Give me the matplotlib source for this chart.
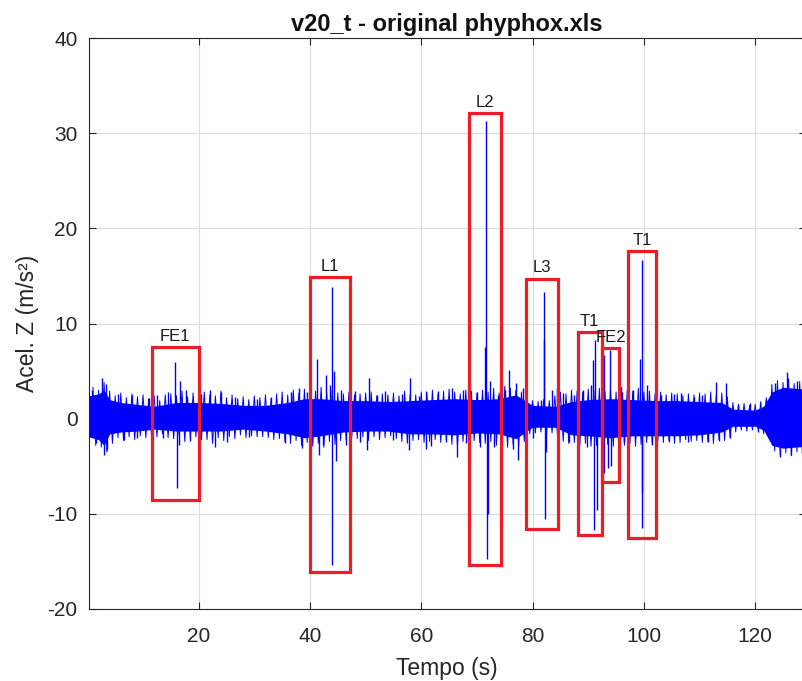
import matplotlib
matplotlib.use("Agg")
import matplotlib.pyplot as plt
import numpy as np
from matplotlib.patches import Rectangle

plt.rcParams["font.family"] = ["Liberation Sans", "DejaVu Sans"]
plt.rcParams["axes.unicode_minus"] = False

# dense core of the signal (upper / lower envelope)
env_t = [0.2, 2.0, 3.0, 4.0, 6, 9, 12, 16, 20, 24, 28, 32, 36, 39, 42, 46, 50, 54,
         58, 62, 66, 70, 74, 77, 80, 84, 87, 90, 94, 98, 102, 106, 110, 114, 116,
         120, 121.5, 123, 125, 127, 129.3]
env_hi = [2.4, 2.6, 3.0, 2.0, 1.7, 1.5, 1.3, 1.7, 1.7, 1.6, 1.4, 1.4, 1.7, 2.1, 2.1,
          1.9, 1.9, 1.8, 1.9, 2.0, 2.1, 2.0, 2.1, 2.5, 1.4, 1.3, 1.8, 2.0, 2.1, 2.0,
          1.9, 1.9, 1.8, 1.7, 1.0, 0.9, 1.3, 2.8, 3.3, 3.2, 3.1]
env_lo = [-1.9, -2.2, -2.8, -1.6, -1.4, -1.3, -1.1, -1.3, -1.3, -1.3, -1.1, -1.3,
          -1.6, -2.0, -1.8, -1.4, -1.3, -1.3, -1.6, -1.6, -1.7, -1.5, -1.6, -2.1,
          -0.9, -0.9, -1.7, -1.8, -2.0, -1.8, -1.8, -1.8, -1.7, -1.4, -0.8, -0.8,
          -1.2, -2.8, -3.1, -3.0, -2.9]

# oscillation maxima / minima, one pair per second (t = 1 .. 129 s)
osc_hi = [3.3, 3.0, 3.8, 2.9, 2.4, 2.7, 2.2, 2.6, 2.3, 2.5,
          2.1, 2.4, 1.9, 2.5, 2.6, 2.4, 2.9, 2.3, 2.7, 2.2,
          2.8, 2.5, 2.4, 2.9, 2.2, 2.5, 2.1, 2.3, 2.0, 2.4,
          2.2, 2.5, 2.1, 2.6, 2.8, 2.5, 3.0, 2.7, 3.1, 2.9,
          2.9, 3.3, 2.8, 3.0, 2.7, 2.6, 2.8, 2.5, 2.6, 2.7,
          2.8, 2.4, 2.6, 2.5, 2.7, 2.4, 2.9, 2.6, 2.5, 2.8,
          2.7, 3.0, 2.6, 2.9, 3.1, 2.8, 2.6, 3.0, 2.9, 2.7,
          3.0, 2.8, 3.2, 2.7, 3.4, 3.2, 3.0, 2.8, 2.0, 1.9,
          1.8, 2.0, 1.9, 2.4, 2.8, 2.6, 3.0, 2.9, 2.8, 3.1,
          3.0, 3.2, 2.9, 3.1, 2.8, 3.3, 3.0, 2.9, 3.2, 2.8,
          2.9, 2.6, 2.8, 2.5, 2.7, 2.6, 2.4, 2.6, 2.5, 2.7,
          2.6, 2.8, 2.5, 2.7, 2.3, 1.7, 1.5, 1.6, 1.4, 1.5,
          1.8, 2.2, 3.6, 4.0, 3.8, 4.2, 3.7, 3.9, 3.6]
osc_lo = [-2.8, -3.0, -3.5, -2.6, -2.0, -2.3, -1.9, -2.2, -1.8, -2.0,
          -1.7, -1.9, -1.6, -2.0, -2.1, -1.8, -2.4, -2.0, -1.9, -2.2,
          -2.2, -2.6, -2.0, -2.3, -1.9, -2.1, -1.7, -2.0, -1.8, -1.9,
          -1.9, -2.0, -2.2, -2.1, -2.4, -2.6, -2.3, -2.8, -2.5, -2.9,
          -2.6, -3.0, -2.4, -2.7, -2.3, -2.2, -2.0, -2.1, -1.9, -2.3,
          -1.9, -2.2, -2.0, -1.8, -2.1, -2.4, -2.6, -2.3, -2.2, -2.5,
          -2.4, -2.2, -2.5, -2.3, -2.7, -2.9, -2.4, -2.6, -2.3, -2.5,
          -2.6, -2.4, -2.8, -2.5, -3.0, -2.7, -2.9, -2.4, -1.6, -1.5,
          -1.4, -1.6, -1.5, -2.0, -2.4, -2.6, -2.5, -2.8, -2.6, -2.9,
          -2.8, -3.0, -2.7, -2.9, -3.2, -2.8, -2.6, -2.9, -2.7, -2.5,
          -2.6, -2.4, -2.5, -2.3, -2.6, -2.5, -2.2, -2.4, -2.3, -2.5,
          -2.4, -2.6, -2.2, -2.3, -2.0, -1.4, -1.2, -1.3, -1.2, -1.1,
          -1.6, -2.0, -3.4, -3.8, -3.6, -3.9, -3.5, -3.7, -3.4]

# individual peaks (time, acceleration)
spike_t = [0.8, 1.5, 2.6, 3.0, 3.3, 3.5, 5.5, 6.5, 8.0, 9.0, 11.0, 12.5, 13.5, 14.5,
           15.7, 16.1, 16.6, 16.4, 17.8, 18.5,
           20.5, 22.0, 23.0, 24.0, 25.0, 26.5, 29.0, 30.5, 33.0, 35.5, 36.5, 38.0,
           38.6, 39.5,
           41.3, 41.6, 42.3, 42.9, 43.6, 43.9, 44.0, 44.3, 44.7, 45.5, 46.5,
           48.0, 49.0, 50.6, 50.3, 52.0, 53.5, 55.0, 56.5, 58.0, 57.8, 59.5, 60.8,
           60.9, 61.7, 63.0, 64.5, 65.5, 66.4, 67.5, 68.0,
           70.0, 70.5, 71.5, 71.7, 71.8, 72.0, 72.3, 73.0, 73.8,
           75.0, 75.8, 76.5, 77.4, 77.0, 78.3,
           80.0, 81.5, 82.0, 82.1, 82.2, 82.5, 83.5, 84.3, 84.6,
           85.5, 86.5, 87.5,
           89.0, 89.8, 90.5, 90.9, 91.1, 91.3, 91.6,
           92.8, 92.85, 93.6, 94.0, 94.05,
           96.0, 96.5, 98.0, 99.3, 99.6, 99.7, 99.75, 100.5, 101.5,
           103.0, 104.5, 105.5, 106.7, 108.0, 109.0, 110.5, 111.5, 113.0, 113.5,
           114.8, 115.5, 117.0, 119.0, 120.5, 122.0, 123.5, 124.5, 125.7, 126.5,
           127.5, 128.5]
spike_v = [3.0, -2.6, 4.3, -3.8, 3.6, -3.3, 2.6, -2.2, 2.5, -2.0, 2.2, 2.5, -2.0, 2.8,
           6.0, -7.3, 4.0, -2.8, 3.0, -2.3,
           2.6, 3.0, -3.0, 2.8, -2.4, 2.3, -1.9, 2.1, 2.3, -2.6, 2.8, 3.2,
           -3.1, 2.8,
           6.3, -3.8, -2.8, 4.6, 3.5, 13.8, -15.4, 5.0, -4.5, 3.0, -2.8,
           2.9, -2.4, 4.3, -3.3, 2.5, 2.9, -2.2, 2.6, 4.3, -3.3, 2.4, 2.9,
           -3.2, -2.9, 2.9, -2.5, 3.2, -4.0, 3.0, -2.6,
           2.8, -3.0, 7.5, 31.3, -14.7, -10.0, 4.0, -3.0, 2.5,
           3.0, 5.1, -3.2, -4.3, 3.7, 3.2,
           -2.0, 2.0, 8.3, 13.3, -10.5, -3.5, 3.0, 3.2, -3.3,
           2.7, -2.4, 2.5,
           3.0, -3.0, 3.5, 6.2, -11.7, 8.3, -9.6,
           6.7, -5.7, -5.2, 7.2, -5.0,
           2.8, -2.5, 3.0, 6.3, -7.8, 16.7, -11.5, 3.5, -2.8,
           2.5, -2.4, 2.6, 2.7, -2.4, 2.3, 2.5, -2.5, 3.9, -2.3,
           3.7, -2.0, 1.5, 1.6, -1.4, 2.0, 3.8, -4.0, 4.9, -3.8,
           4.0, -3.6]

# marked events
box_labels = ["FE1", "L1", "L2", "L3", "T1", "FE2", "T1"]
box_t0 = [11.6, 40.0, 68.6, 78.9, 88.1, 92.5, 97.2]
box_t1 = [20.0, 47.2, 74.4, 84.6, 92.4, 95.5, 102.2]
box_lo = [-8.5, -16.1, -15.4, -11.6, -12.2, -6.7, -12.5]
box_hi = [7.5, 14.9, 32.1, 14.7, 9.1, 7.4, 17.6]

fig = plt.figure(figsize=(8.02, 6.81), dpi=100)
ax = fig.add_axes([88.5 / 802, 72 / 681, (806 - 88.5) / 802, 571 / 681])

blue = "#0000ff"
ax.fill_between(env_t, env_lo, env_hi, color=blue, lw=0, zorder=2)

# zigzag between the per-second maxima and minima
osc_t = np.arange(1, len(osc_hi) + 1, dtype=float)
zz_t = np.column_stack([osc_t, osc_t + 0.5]).ravel()
zz_v = np.column_stack([osc_hi, osc_lo]).ravel()
ax.plot(zz_t, zz_v, color=blue, lw=0.7, zorder=2)

ax.vlines(spike_t, 0, spike_v, color=blue, lw=1.0, zorder=2)

for lab, t0, t1, lo, hi in zip(box_labels, box_t0, box_t1, box_lo, box_hi):
    ax.add_patch(Rectangle((t0, lo), t1 - t0, hi - lo, fill=False,
                           edgecolor="#ee1c25", lw=2.3, zorder=3))
    ax.text((t0 + t1) / 2, hi + 0.35, lab, ha="center", va="bottom",
            fontsize=12, color="#1a1a1a", zorder=4)

ax.set_xlim(0.2, 0.2 + (806 - 88.5) / 5.565)
ax.set_ylim(-20, 40)
ax.set_xticks([20, 40, 60, 80, 100, 120])
ax.set_yticks([-20, -10, 0, 10, 20, 30, 40])
ax.grid(True, color="#dcdcdc", lw=0.8)
ax.set_axisbelow(True)
ax.tick_params(direction="in", length=5, labelsize=15, colors="#262626",
               top=True, right=True)
ax.tick_params(axis="x", pad=13)
ax.tick_params(axis="y", pad=8)
for s in ax.spines.values():
    s.set_color("#262626")
    s.set_linewidth(0.8)

ax.set_xlabel("Tempo (s)", fontsize=16.5, color="#262626", labelpad=8)
ax.set_ylabel("Acel. Z (m/s²)", fontsize=16.5, color="#262626", labelpad=6)
ax.set_title("v20_t - original phyphox.xls", fontsize=17, fontweight="bold",
             color="#111111", pad=5)

fig.savefig("out.png", dpi=100)
